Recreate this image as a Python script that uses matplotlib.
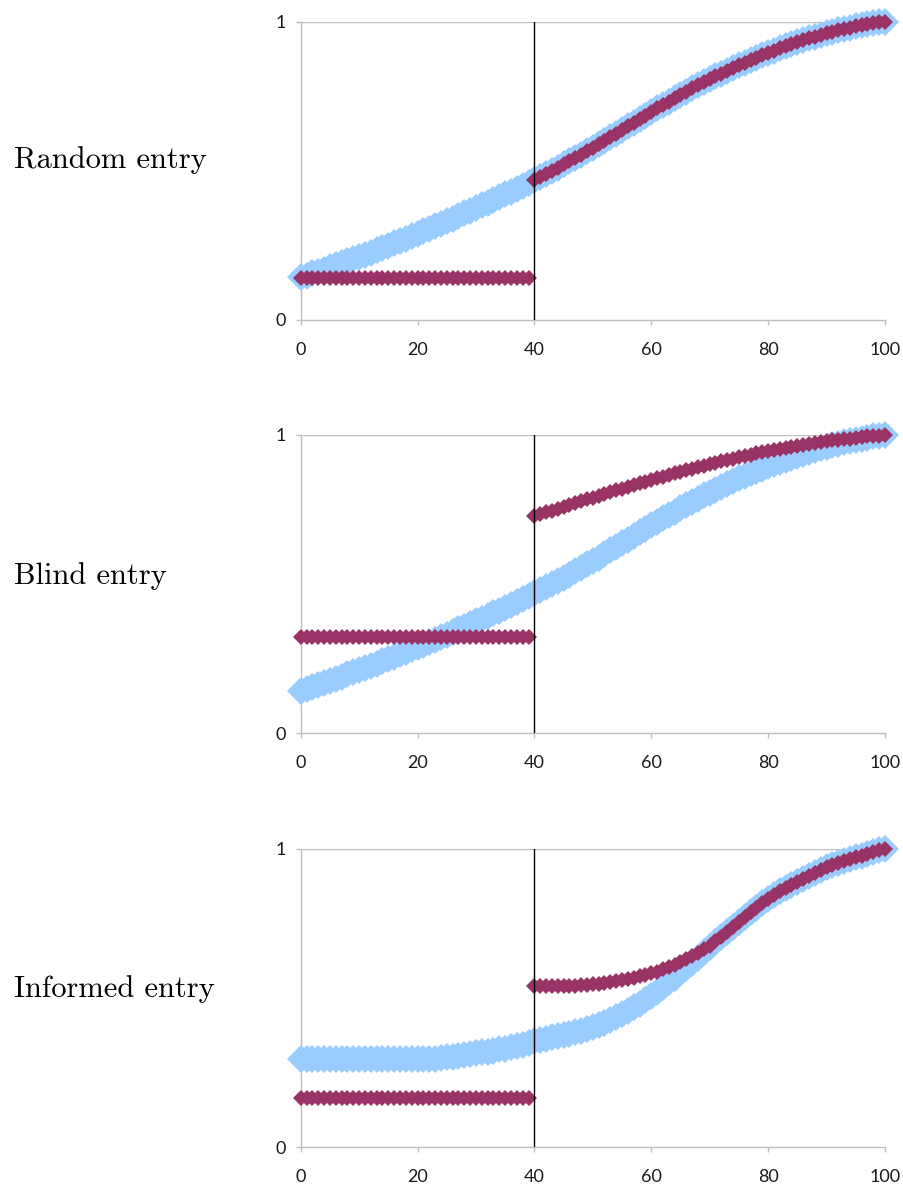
import matplotlib
matplotlib.use("Agg")
import matplotlib.pyplot as plt

# -------------------------------
# Data
# -------------------------------
x_all = list(range(0, 101))
x_low = list(range(0, 40))
x_high = list(range(40, 101))

# light blue curve, same in "Random" and "Blind" panels
blue_common = [
    0.143, 0.149, 0.156, 0.162, 0.169, 0.176, 0.183, 0.190, 0.197, 0.204,
    0.211, 0.218, 0.226, 0.233, 0.241, 0.249, 0.257, 0.265, 0.273, 0.281,
    0.289, 0.297, 0.306, 0.314, 0.323, 0.331, 0.340, 0.349, 0.357, 0.366,
    0.375, 0.384, 0.393, 0.402, 0.411, 0.421, 0.430, 0.440, 0.449, 0.459,
    0.469, 0.479, 0.490, 0.500, 0.511, 0.522, 0.532, 0.543, 0.554, 0.566,
    0.577, 0.589, 0.601, 0.613, 0.625, 0.637, 0.649, 0.661, 0.673, 0.685,
    0.697, 0.709, 0.720, 0.732, 0.743, 0.754, 0.765, 0.776, 0.786, 0.797,
    0.807, 0.817, 0.826, 0.836, 0.845, 0.854, 0.863, 0.871, 0.879, 0.887,
    0.895, 0.903, 0.910, 0.917, 0.924, 0.931, 0.937, 0.944, 0.950, 0.955,
    0.961, 0.966, 0.971, 0.976, 0.980, 0.984, 0.988, 0.991, 0.995, 0.998,
    1.000,
]

# light blue curve in the "Informed" panel
blue_informed = [
    0.296, 0.296, 0.296, 0.296, 0.296, 0.296, 0.296, 0.296, 0.296, 0.296,
    0.296, 0.296, 0.296, 0.296, 0.296, 0.296, 0.296, 0.296, 0.296, 0.296,
    0.296, 0.296, 0.296, 0.297, 0.299, 0.301, 0.303, 0.306, 0.309, 0.312,
    0.315, 0.318, 0.321, 0.324, 0.328, 0.331, 0.335, 0.339, 0.344, 0.350,
    0.356, 0.360, 0.364, 0.368, 0.372, 0.376, 0.381, 0.386, 0.391, 0.397,
    0.403, 0.410, 0.418, 0.427, 0.437, 0.447, 0.458, 0.469, 0.481, 0.494,
    0.507, 0.521, 0.537, 0.553, 0.569, 0.585, 0.602, 0.619, 0.636, 0.653,
    0.670, 0.687, 0.704, 0.721, 0.738, 0.755, 0.771, 0.787, 0.803, 0.818,
    0.832, 0.845, 0.858, 0.869, 0.880, 0.890, 0.900, 0.910, 0.920, 0.929,
    0.938, 0.946, 0.953, 0.960, 0.966, 0.972, 0.978, 0.984, 0.990, 0.995,
    1.000,
]

# maroon series, before the entry (x < 40)
maroon_random_low = [
    0.141, 0.141, 0.141, 0.141, 0.141, 0.141, 0.141, 0.141, 0.141, 0.141,
    0.141, 0.141, 0.141, 0.141, 0.141, 0.141, 0.141, 0.141, 0.141, 0.141,
    0.141, 0.141, 0.141, 0.141, 0.141, 0.141, 0.141, 0.141, 0.141, 0.141,
    0.141, 0.141, 0.141, 0.141, 0.141, 0.141, 0.141, 0.141, 0.141, 0.141,
]
maroon_blind_low = [
    0.322, 0.322, 0.322, 0.322, 0.322, 0.322, 0.322, 0.322, 0.322, 0.322,
    0.322, 0.322, 0.322, 0.322, 0.322, 0.322, 0.322, 0.322, 0.322, 0.322,
    0.322, 0.322, 0.322, 0.322, 0.322, 0.322, 0.322, 0.322, 0.322, 0.322,
    0.322, 0.322, 0.322, 0.322, 0.322, 0.322, 0.322, 0.322, 0.322, 0.322,
]
maroon_informed_low = [
    0.164, 0.164, 0.164, 0.164, 0.164, 0.164, 0.164, 0.164, 0.164, 0.164,
    0.164, 0.164, 0.164, 0.164, 0.164, 0.164, 0.164, 0.164, 0.164, 0.164,
    0.164, 0.164, 0.164, 0.164, 0.164, 0.164, 0.164, 0.164, 0.164, 0.164,
    0.164, 0.164, 0.164, 0.164, 0.164, 0.164, 0.164, 0.164, 0.164, 0.164,
]

# maroon series, after the entry (x >= 40)
maroon_random_high = blue_common[40:]
maroon_blind_high = [
    0.727, 0.734, 0.740, 0.746, 0.753, 0.759, 0.765, 0.771, 0.778, 0.784,
    0.790, 0.796, 0.802, 0.808, 0.814, 0.820, 0.826, 0.832, 0.838, 0.843,
    0.849, 0.855, 0.860, 0.866, 0.871, 0.876, 0.882, 0.887, 0.892, 0.897,
    0.902, 0.907, 0.911, 0.916, 0.920, 0.925, 0.929, 0.934, 0.938, 0.942,
    0.946, 0.950, 0.953, 0.957, 0.960, 0.964, 0.967, 0.970, 0.974, 0.977,
    0.980, 0.982, 0.984, 0.986, 0.988, 0.991, 0.993, 0.995, 0.997, 0.998,
    1.000,
]
maroon_informed_high = [
    0.540, 0.540, 0.540, 0.540, 0.540, 0.541, 0.541, 0.542, 0.543, 0.544,
    0.546, 0.548, 0.550, 0.553, 0.556, 0.560, 0.564, 0.568, 0.573, 0.578,
    0.583, 0.589, 0.596, 0.604, 0.612, 0.621, 0.630, 0.640, 0.651, 0.663,
    0.675, 0.690, 0.704, 0.721, 0.738, 0.755, 0.771, 0.787, 0.803, 0.818,
    0.832, 0.845, 0.858, 0.869, 0.880, 0.890, 0.900, 0.910, 0.920, 0.929,
    0.938, 0.946, 0.953, 0.960, 0.966, 0.972, 0.978, 0.984, 0.990, 0.995,
    1.000,
]

panel_labels = ["Random entry", "Blind entry", "Informed entry"]
x_ticks = [0, 20, 40, 60, 80, 100]
y_ticks = [0, 1]
entry_x = 40

panels = [
    (blue_common, maroon_random_low, maroon_random_high),
    (blue_common, maroon_blind_low, maroon_blind_high),
    (blue_informed, maroon_informed_low, maroon_informed_high),
]

# -------------------------------
# Layout
# -------------------------------
BLUE = "#99CCFF"
MAROON = "#993366"
GREY = "#BFBFBF"

fig = plt.figure(figsize=(9.04, 11.89), dpi=100)

ax_bottoms = [0.7309, 0.3833, 0.0351]
label_y = [0.8585, 0.5090, 0.1615]

for i, (blue, m_low, m_high) in enumerate(panels):
    ax = fig.add_axes([0.3326, ax_bottoms[i], 0.6463, 0.2509])

    ax.plot(x_all, blue, linestyle="none", marker="D", markersize=14.6,
            markeredgewidth=0, color=BLUE, clip_on=False, zorder=3)
    ax.plot(x_low, m_low, linestyle="none", marker="D", markersize=8.2,
            markeredgewidth=0, color=MAROON, clip_on=False, zorder=4)
    ax.plot(x_high, m_high, linestyle="none", marker="D", markersize=8.2,
            markeredgewidth=0, color=MAROON, clip_on=False, zorder=4)

    # entry time marker
    ax.axvline(entry_x, color="black", linewidth=1.0, zorder=5)

    ax.set_xlim(0, 100)
    ax.set_ylim(0, 1)
    ax.set_xticks(x_ticks)
    ax.set_yticks(y_ticks)
    ax.set_xticklabels([str(t) for t in x_ticks])
    ax.set_yticklabels([str(t) for t in y_ticks])

    ax.axhline(1, color=GREY, linewidth=1.0, zorder=1)
    for side in ["top", "right"]:
        ax.spines[side].set_visible(False)
    for side in ["left", "bottom"]:
        ax.spines[side].set_color(GREY)
        ax.spines[side].set_linewidth(1.0)

    ax.tick_params(axis="x", direction="out", length=3.6, width=1.0,
                   color=GREY, pad=12, labelsize=13, labelcolor="#1a1a1a")
    ax.tick_params(axis="y", direction="out", length=3.6, width=1.0,
                   color=GREY, pad=7, labelsize=13, labelcolor="#1a1a1a")
    for lab in ax.get_xticklabels() + ax.get_yticklabels():
        lab.set_fontfamily("Lato")

    fig.text(0.0155, label_y[i], panel_labels[i], fontsize=22,
             family="cmr10", ha="left", va="baseline")

fig.savefig("out.png", dpi=100)
